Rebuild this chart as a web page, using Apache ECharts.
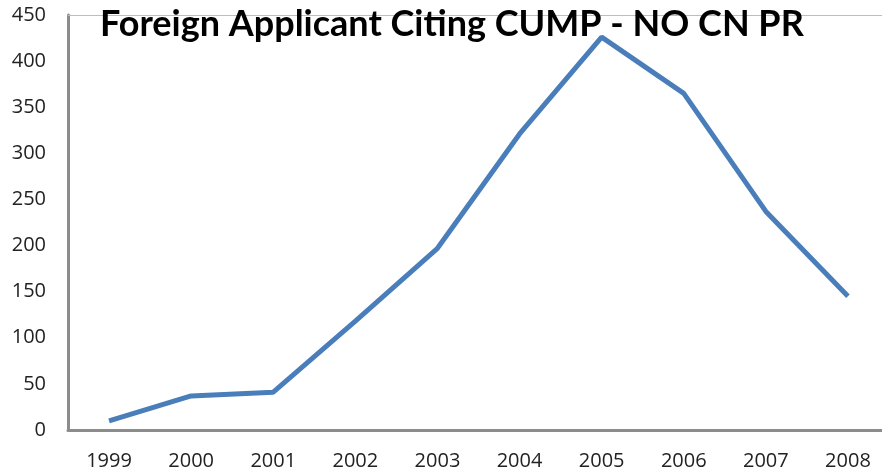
<!DOCTYPE html>
<html>
<head>
<meta charset="utf-8">
<script src="https://cdn.jsdelivr.net/npm/echarts@6/dist/echarts.min.js"></script>
<style>
  html, body { margin: 0; padding: 0; background: #fff; }
  #chart { width: 882px; height: 475px; }
</style>
</head>
<body>
<div id="chart"></div>
<script>
const years = ['1999', '2000', '2001', '2002', '2003', '2004', '2005', '2006', '2007', '2008']
const citing = [10, 37, 41, 118, 197, 321, 426, 365, 237, 145]

const chart = echarts.init(document.getElementById('chart'), null, { renderer: 'canvas' })
const labelFont = { fontFamily: 'Open Sans', fontSize: 20, color: '#222' }

chart.setOption({
  backgroundColor: '#fff',
  animation: false,
  title: {
    text: 'Foreign Applicant Citing CUMP - NO CN PR',
    left: 95,
    top: 1,
    textStyle: { fontFamily: 'Lato', fontWeight: 'bold', fontSize: 36, color: '#000' },
  },
  grid: { left: 68, right: -7, top: 15, bottom: 45, outerBoundsMode: 'none' },
  xAxis: [
    {
      type: 'category',
      data: years,
      axisLine: { lineStyle: { color: '#8c8c8c', width: 3 } },
      axisTick: { show: false },
      axisLabel: { ...labelFont, margin: 21 },
    },
    {
      type: 'category',
      position: 'top',
      data: years,
      axisLine: { lineStyle: { color: '#bdbdbd', width: 1 } },
      axisTick: { show: false },
      axisLabel: { show: false },
    },
  ],
  yAxis: {
    type: 'value',
    min: 0,
    max: 450,
    interval: 50,
    axisLine: { show: true, lineStyle: { color: '#8c8c8c', width: 3 } },
    axisTick: { show: false },
    splitLine: { show: false },
    axisLabel: { ...labelFont, margin: 22 },
  },
  series: [
    {
      type: 'line',
      data: citing,
      symbol: 'none',
      lineStyle: { color: '#4a7ebb', width: 5 },
    },
  ],
})
</script>
</body>
</html>
